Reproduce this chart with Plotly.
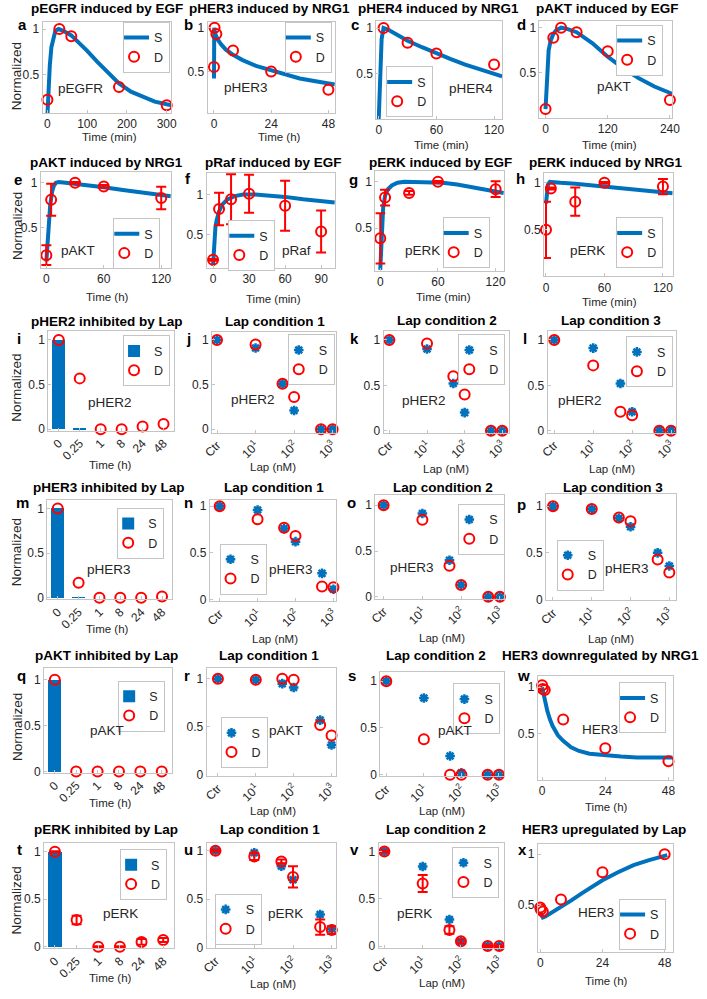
import plotly.graph_objects as go
from plotly.subplots import make_subplots

# ---------- values ----------
# time-course panels: simulation curve (S) and data points (D)
a_sim_t = [0, 3, 6, 10, 15, 20, 28, 40, 60, 80, 100, 125, 150, 180, 210, 240, 270, 300, 312]
a_sim = [0.05, 0.35, 0.6, 0.8, 0.92, 0.98, 1.0, 0.98, 0.93, 0.85, 0.76, 0.64, 0.53, 0.4, 0.31, 0.25, 0.2, 0.17, 0.16]
a_dat_t = [0, 30, 60, 180, 300]
a_dat = [0.22, 1.0, 0.92, 0.36, 0.16]

b_sim_t = [0, 0.03, 0.12, 0.3, 0.7, 1.5, 3, 5, 8, 12, 18, 24, 30, 36, 42, 48, 50.7]
b_sim = [0.42, 0.9, 1.0, 0.97, 0.92, 0.87, 0.81, 0.75, 0.69, 0.63, 0.56, 0.51, 0.46, 0.42, 0.39, 0.36, 0.35]
b_dat_t = [0, 0.25, 1, 8, 24, 48]
b_dat = [0.55, 1.0, 0.93, 0.74, 0.5, 0.29]

c_sim_t = [0, 1, 2, 3, 5, 10, 20, 30, 45, 60, 75, 90, 105, 120, 128.4]
c_sim = [0.0, 0.3, 0.65, 0.88, 1.0, 0.98, 0.92, 0.86, 0.79, 0.72, 0.66, 0.6, 0.55, 0.5, 0.47]
c_dat_t = [0, 5, 30, 60, 120]
c_dat = [0.0, 1.0, 0.84, 0.72, 0.6]

d_sim_t = [0, 3, 6, 10, 15, 20, 30, 40, 60, 90, 120, 150, 180, 210, 244]
d_sim = [0.1, 0.55, 0.75, 0.86, 0.93, 0.97, 1.0, 0.99, 0.95, 0.83, 0.68, 0.55, 0.44, 0.35, 0.27]
d_dat_t = [0, 15, 30, 60, 120, 240]
d_dat = [0.1, 0.89, 1.0, 0.95, 0.74, 0.2]

e_sim_t = [0, 2, 4, 6, 8, 10, 13, 20, 30, 45, 60, 80, 100, 120, 130]
e_sim = [0.12, 0.45, 0.75, 0.9, 0.97, 1.0, 1.01, 1.0, 0.99, 0.97, 0.95, 0.92, 0.89, 0.86, 0.85]
e_dat_t = [0, 5, 30, 60, 120]
e_dat = [0.19, 0.81, 1.0, 0.96, 0.83]
e_err = [0.11, 0.18, 0.01, 0.015, 0.125]

f_sim_t = [0, 1, 2, 3, 5, 8, 12, 18, 25, 35, 45, 60, 75, 90, 101.4]
f_sim = [0.12, 0.45, 0.6, 0.68, 0.79, 0.88, 0.94, 0.98, 1.0, 1.0, 0.99, 0.97, 0.94, 0.92, 0.9]
f_dat_t = [0, 5, 15, 30, 60, 90]
f_dat = [0.19, 0.82, 0.94, 1.01, 0.86, 0.54]
f_err = [0.01, 0.2, 0.31, 0.235, 0.31, 0.26]

g_sim_t = [0, 1, 2, 3, 5, 8, 12, 18, 25, 35, 50, 65, 80, 100, 128.5]
g_sim = [0.05, 0.35, 0.6, 0.72, 0.85, 0.92, 0.96, 0.99, 1.0, 1.0, 1.0, 0.99, 0.97, 0.93, 0.88]
g_dat_t = [0, 5, 30, 60, 120]
g_dat = [0.39, 0.83, 0.88, 1.0, 0.92]
g_err = [0.27, 0.085, 0.02, 0.01, 0.085]

h_sim_t = [0, 1, 2, 4, 8, 15, 30, 45, 60, 80, 100, 120, 130]
h_sim = [0.78, 0.92, 0.98, 1.01, 1.01, 1.0, 0.99, 0.975, 0.96, 0.94, 0.92, 0.9, 0.89]
h_dat_t = [0, 5, 30, 60, 120]
h_dat = [0.5, 0.94, 0.8, 1.0, 0.96]
h_err = [0.3, 0.01, 0.15, 0.01, 0.08]

w_sim_t = [0, 0.5, 1, 2, 3, 4, 6, 8, 11, 14, 18, 24, 30, 36, 42, 48, 49.6]
w_sim = [1.0, 0.92, 0.85, 0.74, 0.65, 0.58, 0.48, 0.42, 0.35, 0.31, 0.28, 0.26, 0.25, 0.24, 0.24, 0.24, 0.24]
w_dat_t = [0, 0.25, 1, 8, 24, 48]
w_dat = [1.02, 0.98, 0.97, 0.65, 0.34, 0.2]

x_sim_t = [0, 0.5, 1, 2, 4, 8, 12, 16, 20, 24, 30, 36, 42, 48, 49]
x_sim = [0.42, 0.38, 0.37, 0.38, 0.41, 0.47, 0.54, 0.61, 0.68, 0.74, 0.82, 0.89, 0.94, 0.98, 0.99]
x_dat_t = [0, 0.25, 1, 8, 24, 48]
x_dat = [0.47, 0.45, 0.43, 0.55, 0.82, 1.0]

# inhibition over time (bars = S, circles = D)
time_cats = ["0", "0.25", "1", "8", "24", "48"]
i_sim = [1.0, 0.01, 0, 0, 0, 0]
i_dat = [1.0, 0.57, 0.0, 0.0, 0.03, 0.06]
m_sim = [1.0, 0.003, 0, 0, 0, 0]
m_dat = [1.0, 0.17, 0.0, 0.0, 0.0, 0.015]
q_sim = [1.0, 0, 0, 0, 0, 0]
q_dat = [1.0, 0.0, 0.0, 0.0, 0.0, 0.0]
t_sim = [1.0, 0, 0, 0, 0, 0]
t_dat = [1.0, 0.28, 0.0, 0.0, 0.05, 0.07]
t_err = [0.005, 0.045, 0.005, 0.005, 0.03, 0.02]

# Lap dose response (Ctr drawn at 1 nM)
lap_nm = [1, 10, 50, 100, 500, 1000]
lap_tickvals = [1, 10, 100, 1000]
lap_ticktext = ["Ctr", "10<sup>1</sup>", "10<sup>2</sup>", "10<sup>3</sup>"]
j_sim = [1.0, 0.91, 0.51, 0.21, 0.0, 0.0]
j_dat = [1.0, 0.95, 0.51, 0.36, 0.0, 0.0]
k_sim = [1.0, 0.9, 0.52, 0.2, 0.0, 0.0]
k_dat = [1.0, 0.96, 0.6, 0.4, 0.0, 0.0]
l_sim = [1.0, 0.91, 0.52, 0.21, 0.01, 0.01]
l_dat = [1.0, 0.72, 0.21, 0.17, 0.0, 0.0]
n_sim = [1.0, 0.96, 0.76, 0.62, 0.28, 0.11]
n_dat = [1.0, 0.86, 0.77, 0.68, 0.14, 0.13]
o_sim = [1.0, 0.91, 0.4, 0.13, 0.0, 0.0]
o_dat = [1.0, 0.84, 0.34, 0.13, 0.0, 0.0]
p_sim = [1.0, 0.97, 0.87, 0.78, 0.5, 0.36]
p_dat = [1.0, 0.97, 0.88, 0.84, 0.43, 0.29]
r_sim = [1.0, 0.99, 0.95, 0.91, 0.57, 0.31]
r_dat = [1.0, 0.99, 1.0, 0.99, 0.52, 0.41]
s_sim = [1.0, 0.82, 0.2, 0.02, 0.0, 0.0]
s_dat = [1.0, 0.38, 0.0, 0.0, 0.0, 0.0]
u_sim = [1.0, 0.98, 0.84, 0.7, 0.34, 0.19]
u_dat = [1.0, 0.94, 0.89, 0.73, 0.21, 0.18]
u_err = [0.01, 0.035, 0.02, 0.11, 0.08, 0.04]
v_sim = [1.0, 0.84, 0.28, 0.05, 0.0, 0.0]
v_dat = [1.0, 0.66, 0.17, 0.05, 0.0, 0.0]
v_err = [0.01, 0.09, 0.04, 0.02, 0.01, 0.01]

titles = {
    "a": "pEGFR induced by EGF", "b": "pHER3 induced by NRG1", "c": "pHER4 induced by NRG1",
    "d": "pAKT induced by EGF", "e": "pAKT induced by NRG1", "f": "pRaf induced by EGF",
    "g": "pERK induced by EGF", "h": "pERK induced by NRG1", "i": "pHER2 inhibited by Lap",
    "j": "Lap condition 1", "k": "Lap condition 2", "l": "Lap condition 3",
    "m": "pHER3 inhibited by Lap", "n": "Lap condition 1", "o": "Lap condition 2",
    "p": "Lap condition 3", "q": "pAKT inhibited by Lap", "r": "Lap condition 1",
    "s": "Lap condition 2", "w": "HER3 downregulated by NRG1", "t": "pERK inhibited by Lap",
    "u": "Lap condition 1", "v": "Lap condition 2", "x": "HER3 upregulated by Lap",
}
species = {
    "a": "pEGFR", "b": "pHER3", "c": "pHER4", "d": "pAKT", "e": "pAKT", "f": "pRaf",
    "g": "pERK", "h": "pERK", "i": "pHER2", "j": "pHER2", "k": "pHER2", "l": "pHER2",
    "m": "pHER3", "n": "pHER3", "o": "pHER3", "p": "pHER3", "q": "pAKT", "r": "pAKT",
    "s": "pAKT", "w": "HER3", "t": "pERK", "u": "pERK", "v": "pERK", "x": "HER3",
}
xlabels = {
    "a": "Time (min)", "b": "Time (h)", "c": "Time (min)", "d": "Time (min)",
    "e": "Time (h)", "f": "Time (min)", "g": "Time (min)", "h": "Time (min)",
    "w": "Time (h)", "x": "Time (h)",
}

# ---------- layout (pixel geometry) ----------
W, H = 707, 999
BLUE = "#0072BD"
RED = "#FF0000"
EDGE = "#c4c4c4"
TXT = "#262626"
FONT = "Liberation Sans, Arial, sans-serif"

order = ["a", "b", "c", "d", "e", "f", "g", "h", "i", "j", "k", "l",
         "m", "n", "o", "p", "q", "r", "s", "w", "t", "u", "v", "x"]

# box: left, right, top, bottom in px
boxes = {
    "a": (33.5, 165.7, 20.7, 113), "b": (202.7, 333.3, 20.7, 113),
    "c": (376, 505, 20, 119), "d": (543.3, 679.3, 20, 118),
    "e": (31.7, 165, 172.3, 269), "f": (201.7, 333.3, 173.3, 269),
    "g": (375, 506.7, 171.7, 272), "h": (548, 680, 173, 277.7),
    "i": (39.3, 168.3, 332.7, 433), "j": (207.3, 335, 333.3, 435),
    "k": (383.3, 511.7, 332.7, 435), "l": (551.7, 683.3, 332.7, 435),
    "m": (38.3, 166.7, 503.3, 603.3), "n": (205, 335, 503.3, 605),
    "o": (375, 506.7, 498, 602.7), "p": (550, 683.3, 497, 604),
    "q": (35, 166.7, 672.3, 778), "r": (201.7, 335, 672.3, 781),
    "s": (380, 506.7, 676.7, 781.7), "w": (541.7, 680, 680, 785),
    "t": (35, 168.3, 848.3, 955), "u": (201.7, 335, 848.3, 955),
    "v": (378.3, 506.7, 848.3, 955), "x": (541.7, 680, 850, 958.3),
}
xranges = {
    "a": [-12, 312], "b": [-2.7, 50.7], "c": [-2.4, 128.4], "d": [-11.7, 244],
    "e": [-5.7, 130], "f": [-5.4, 101.4], "g": [-5, 128.5], "h": [-2, 130],
    "w": [-1.6, 49.6], "x": [-0.9, 51.1],
    "j": [-0.13, 3.1], "k": [-0.155, 3.17], "l": [-0.17, 3.125],
    "n": [-0.26, 3.08], "o": [-0.21, 3.1], "p": [-0.18, 3.17],
    "r": [-0.3, 3.13], "s": [-0.16, 3.13], "u": [-0.23, 3.12], "v": [-0.15, 3.12],
}
yranges = {
    "a": [0.073, 1.083], "b": [0.023, 1.072], "c": [0.003, 1.079], "d": [0.001, 1.076],
    "e": [0.048, 1.122], "f": [0.091, 1.267], "g": [0.04, 1.113], "h": [0.004, 1.109],
    "i": [-0.014, 1.1], "j": [-0.037, 1.093], "k": [-0.019, 1.098], "l": [-0.019, 1.098],
    "m": [-0.018, 1.093], "n": [-0.018, 1.064], "o": [-0.022, 1.111], "p": [-0.007, 1.131],
    "q": [-0.014, 1.13], "r": [-0.01, 1.114], "s": [-0.018, 1.095], "w": [-0.001, 1.126],
    "t": [-0.018, 1.098], "u": [-0.01, 1.086], "v": [-0.024, 1.094], "x": [0.031, 1.099],
}
time_ticks = {
    "a": [0, 100, 200, 300], "b": [0, 24, 48], "c": [0, 60, 120], "d": [0, 120, 240],
    "e": [0, 60, 120], "f": [0, 30, 60, 90], "g": [0, 60, 120], "h": [0, 60, 120],
    "w": [0, 24, 48], "x": [0, 24, 48],
}
# legend top-left corners (px); shifted a little to balance plotly's wider legend symbols
LEG_DX, LEG_DY = -8, -4
legend_pos = {
    "a": (124, 25), "b": (290, 25), "c": (394, 70), "d": (630, 28),
    "e": (114, 223), "f": (232, 225), "g": (452, 222), "h": (630, 222),
    "i": (124, 341), "j": (293, 340), "k": (468, 340), "l": (640, 342),
    "m": (118, 515), "n": (223, 551), "o": (468, 511), "p": (569, 547),
    "q": (119, 689), "r": (224, 726), "s": (463, 692), "w": (633, 691),
    "t": (121, 859), "u": (218, 904), "v": (462, 857), "x": (633, 909),
}
species_pos = {
    "a": (72, 88), "b": (242, 87), "c": (473, 88), "d": (620, 86),
    "e": (70, 252), "f": (294, 252), "g": (423, 252), "h": (593, 252),
    "i": (103, 405), "j": (249, 402), "k": (425, 403), "l": (585, 403),
    "m": (102, 573), "n": (288, 573), "o": (412, 571), "p": (633, 572),
    "q": (100, 735), "r": (283, 735), "s": (457, 735), "w": (605, 734),
    "t": (113, 920), "u": (283, 920), "v": (415, 920), "x": (601, 919),
}
letter_pos = {
    "a": (13, 24), "b": (183, 24), "c": (354, 24), "d": (525, 24),
    "e": (8, 180), "f": (183, 179), "g": (352, 180), "h": (524, 179),
    "i": (9, 340), "j": (183, 340), "k": (353, 340), "l": (528, 340),
    "m": (13, 506), "n": (183, 506), "o": (350, 506), "p": (525, 508),
    "q": (12, 680), "r": (182, 680), "s": (351, 680), "w": (527, 680),
    "t": (10, 855), "u": (183, 855), "v": (353, 855), "x": (526, 855),
}
title_pos = {
    "a": (100, 8), "b": (266, 8), "c": (440, 8), "d": (613, 8),
    "e": (99, 163), "f": (270, 163), "g": (442, 163), "h": (612, 163),
    "i": (100, 323), "j": (272, 323), "k": (448, 322), "l": (617, 322),
    "m": (102, 490), "n": (271, 490), "o": (444, 490), "p": (619, 490),
    "q": (99, 660), "r": (266, 660), "s": (437, 660), "w": (606, 660),
    "t": (98, 835), "u": (267, 835), "v": (437, 835), "x": (610, 835),
}
xlabel_pos = {
    "a": (102, 137), "b": (277, 137), "c": (443, 145), "d": (615, 145),
    "e": (100, 298), "f": (270, 300), "g": (445, 298), "h": (615, 303),
    "i": (103, 468), "j": (270, 470), "k": (447, 472), "l": (618, 472),
    "m": (100, 633), "n": (272, 643), "o": (443, 642), "p": (617, 643),
    "q": (103, 808), "r": (270, 817), "s": (443, 817), "w": (612, 813),
    "t": (103, 985), "u": (270, 991), "v": (443, 990), "x": (612, 988),
}
ylabel_y = [76, 227, 390, 556, 732, 907]

time_data = {
    "a": (a_sim_t, a_sim, a_dat_t, a_dat, None), "b": (b_sim_t, b_sim, b_dat_t, b_dat, None),
    "c": (c_sim_t, c_sim, c_dat_t, c_dat, None), "d": (d_sim_t, d_sim, d_dat_t, d_dat, None),
    "e": (e_sim_t, e_sim, e_dat_t, e_dat, e_err), "f": (f_sim_t, f_sim, f_dat_t, f_dat, f_err),
    "g": (g_sim_t, g_sim, g_dat_t, g_dat, g_err), "h": (h_sim_t, h_sim, h_dat_t, h_dat, h_err),
    "w": (w_sim_t, w_sim, w_dat_t, w_dat, None), "x": (x_sim_t, x_sim, x_dat_t, x_dat, None),
}
bar_data = {"i": (i_sim, i_dat, None), "m": (m_sim, m_dat, None),
            "q": (q_sim, q_dat, None), "t": (t_sim, t_dat, t_err)}
dose_data = {"j": (j_sim, j_dat, None), "k": (k_sim, k_dat, None), "l": (l_sim, l_dat, None),
             "n": (n_sim, n_dat, None), "o": (o_sim, o_dat, None), "p": (p_sim, p_dat, None),
             "r": (r_sim, r_dat, None), "s": (s_sim, s_dat, None),
             "u": (u_sim, u_dat, u_err), "v": (v_sim, v_dat, v_err)}

fig = make_subplots(rows=6, cols=4)


def axis_base():
    return dict(showline=True, mirror=True, linecolor=EDGE, linewidth=1,
                ticks="inside", ticklen=3, tickwidth=1, tickcolor=EDGE,
                showgrid=False, zeroline=False,
                tickfont=dict(size=12, color=TXT, family=FONT))


def dat_marker():
    return dict(symbol="circle-open", size=10, color=RED, line=dict(width=2, color=RED))


def err_bar(err):
    if err is None:
        return None
    return dict(type="data", array=err, visible=True, color=RED, thickness=2, width=5)


annotations = []


def add_text(pos, text, size, bold=False, angle=0):
    px_, py_ = pos
    annotations.append(dict(
        x=px_ / W, y=1 - py_ / H, xref="paper", yref="paper", showarrow=False,
        text="<b>%s</b>" % text if bold else text, textangle=angle,
        xanchor="center", yanchor="middle",
        font=dict(size=size, color="#000000" if bold else TXT, family=FONT)))


for idx, key in enumerate(order):
    n = idx + 1
    row, col = idx // 4 + 1, idx % 4 + 1
    sfx = "" if n == 1 else str(n)
    lg = "legend" + sfx
    l, r, t, b = boxes[key]

    xa = axis_base()
    xa.update(domain=[l / W, r / W])
    ya = axis_base()
    ya.update(domain=[1 - b / H, 1 - t / H], range=yranges[key])

    if key in time_data:
        st, sv, dt, dv, de = time_data[key]
        fig.add_trace(go.Scatter(x=st, y=sv, mode="lines", name="S", legend=lg,
                                 line=dict(color=BLUE, width=4)), row=row, col=col)
        fig.add_trace(go.Scatter(x=dt, y=dv, mode="markers", name="D", legend=lg,
                                 marker=dat_marker(), error_y=err_bar(de), cliponaxis=False),
                      row=row, col=col)
        xa.update(range=xranges[key], tickvals=time_ticks[key])
        ya.update(tickvals=[0.5, 1], ticktext=["0.5", "1"])
    elif key in bar_data:
        sv, dv, de = bar_data[key]
        fig.add_trace(go.Bar(x=time_cats, y=sv, name="S", legend=lg, width=0.62,
                             marker=dict(color=BLUE, line=dict(width=0))), row=row, col=col)
        fig.add_trace(go.Scatter(x=time_cats, y=dv, mode="markers", name="D", legend=lg,
                                 marker=dat_marker(), error_y=err_bar(de), cliponaxis=False),
                      row=row, col=col)
        xa.update(type="category", range=[-0.5, 5.5], tickangle=-45)
        ya.update(tickvals=[0, 0.5, 1], ticktext=["0", "0.5", "1"])
    else:
        sv, dv, de = dose_data[key]
        fig.add_trace(go.Scatter(x=lap_nm, y=sv, mode="markers", name="S", legend=lg,
                                 marker=dict(symbol="asterisk-open", size=8, color=BLUE,
                                             line=dict(width=2.5, color=BLUE)),
                                 cliponaxis=False), row=row, col=col)
        fig.add_trace(go.Scatter(x=lap_nm, y=dv, mode="markers", name="D", legend=lg,
                                 marker=dat_marker(), error_y=err_bar(de), cliponaxis=False),
                      row=row, col=col)
        xa.update(type="log", range=xranges[key], tickvals=lap_tickvals,
                  ticktext=lap_ticktext, tickangle=-45)
        ya.update(tickvals=[0, 0.5, 1], ticktext=["0", "0.5", "1"])

    lx, ly = legend_pos[key]
    fig.update_layout({
        "xaxis" + sfx: xa,
        "yaxis" + sfx: ya,
        lg: dict(x=(lx + LEG_DX) / W, y=1 - (ly + LEG_DY) / H, xanchor="left", yanchor="top",
                 bgcolor="white", bordercolor=EDGE, borderwidth=1,
                 font=dict(size=12.5, color=TXT, family=FONT), itemwidth=30,
                 indentation=-10, tracegroupgap=0),
    })

    add_text(title_pos[key], titles[key], 13.5, bold=True)
    add_text(letter_pos[key], key, 15, bold=True)
    add_text(species_pos[key], species[key], 13.5)
    add_text(xlabel_pos[key], xlabels.get(key, "Time (h)" if key in bar_data else "Lap (nM)"), 11.5)
    if col == 1:
        add_text((7, ylabel_y[row - 1]), "Normalized", 13.5, angle=-90)

fig.update_layout(
    width=W, height=H, margin=dict(l=0, r=0, t=0, b=0),
    plot_bgcolor="white", paper_bgcolor="white",
    font=dict(family=FONT, color=TXT),
    annotations=annotations, showlegend=True, bargap=0,
)

fig.write_html("out.html", config={"displayModeBar": False},
               post_script="document.body.style.margin='0';document.body.style.overflow='hidden';")
